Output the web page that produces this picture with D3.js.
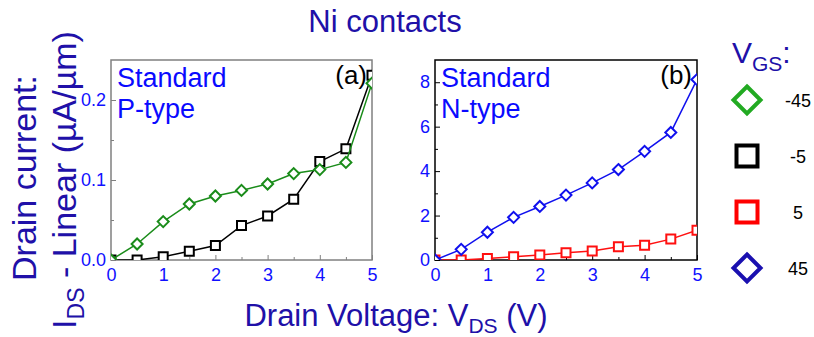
<!DOCTYPE html>
<html>
<head>
<meta charset="utf-8">
<script src="https://cdn.jsdelivr.net/npm/d3@7"></script>
<style>
  body { margin: 0; background: #fff; }
  svg { display: block; font-family: "Liberation Sans", Arial, sans-serif; }
</style>
</head>
<body>
<svg id="chart" width="814" height="337"></svg>
<script>
// Drain voltage sweep (V)
const vds = [0, 0.5, 1, 1.5, 2, 2.5, 3, 3.5, 4, 4.5, 5];

// (a) Standard P-type, current in uA/um
const pVgsM45 = [0, 0.020, 0.048, 0.070, 0.080, 0.087, 0.095, 0.108, 0.113, 0.122, 0.221];
const pVgsM5 = [0, 0.000, 0.004, 0.011, 0.018, 0.043, 0.055, 0.076, 0.123, 0.139, 0.231];

// (b) Standard N-type, current in uA/um
const nVgs5 = [0, 0.00, 0.07, 0.15, 0.22, 0.33, 0.40, 0.60, 0.66, 0.94, 1.34];
const nVgs45 = [0, 0.48, 1.25, 1.92, 2.41, 2.92, 3.47, 4.07, 4.89, 5.74, 8.12];

const xTicks = [0, 1, 2, 3, 4, 5];
const xMinor = [0.5, 1.5, 2.5, 3.5, 4.5];
const yTicksA = [0, 0.1, 0.2];
const yMinorA = [0.05, 0.15];
const yTicksB = [0, 2, 4, 6, 8];
const yMinorB = [1, 3, 5, 7];

const legendLabels = ["-45", "-5", "5", "45"];

const darkBlue = "#2010a8";
const tickBlue = "#1010ff";

const svg = d3.select("#chart");

// panel geometry
const panels = [
    {
        id: "a", x0: 111, x1: 372, yMax: 0.25, frame: "#808080",
        yTicks: yTicksA, yMinor: yMinorA, yFormat: d3.format(".1f"),
        tag: "(a)", kind: "P-type",
        series: [
            { values: pVgsM5, color: "#000000", shape: "square" },
            { values: pVgsM45, color: "#1a8c1a", shape: "diamond" }
        ]
    },
    {
        id: "b", x0: 435, x1: 697, yMax: 9, frame: "#000000",
        yTicks: yTicksB, yMinor: yMinorB, yFormat: d3.format("d"),
        tag: "(b)", kind: "N-type",
        series: [
            { values: nVgs5, color: "#ff1010", shape: "square" },
            { values: nVgs45, color: "#1010ee", shape: "diamond" }
        ]
    }
];
const plotTop = 60, plotBottom = 260;

function markerPath(shape, size) {
    const h = size / 2;
    if (shape === "square") {
        return `M${-h},${-h}H${h}V${h}H${-h}Z`;
    }
    return `M0,${-h}L${h},0L0,${h}L${-h},0Z`;
}

panels.forEach(p => {
    const x = d3.scaleLinear().domain([0, 5]).range([p.x0, p.x1]);
    const y = d3.scaleLinear().domain([0, p.yMax]).range([plotBottom, plotTop]);
    const g = svg.append("g");

    // clip region for the data marks
    svg.append("clipPath").attr("id", "clip-" + p.id)
        .append("rect")
        .attr("x", p.x0).attr("y", plotTop)
        .attr("width", p.x1 - p.x0).attr("height", plotBottom - plotTop);

    // axes (ticks pointing inward)
    const xAxis = g.append("g").attr("transform", `translate(0,${plotBottom})`)
        .call(d3.axisBottom(x).tickValues(xTicks).tickSize(-5).tickPadding(8).tickFormat(d3.format("d")));
    g.append("g").attr("transform", `translate(0,${plotBottom})`)
        .call(d3.axisBottom(x).tickValues(xMinor).tickSize(-3).tickFormat(""));
    const yAxis = g.append("g").attr("transform", `translate(${p.x0},0)`)
        .call(d3.axisLeft(y).tickValues(p.yTicks).tickSize(-5).tickPadding(5).tickFormat(p.yFormat));
    g.append("g").attr("transform", `translate(${p.x0},0)`)
        .call(d3.axisLeft(y).tickValues(p.yMinor).tickSize(-3).tickFormat(""));

    g.selectAll(".domain").remove();
    g.selectAll(".tick line").attr("stroke", p.frame).attr("stroke-width", 1);
    xAxis.selectAll("text").attr("fill", tickBlue).style("font-size", "18px");
    yAxis.selectAll("text").attr("fill", tickBlue).style("font-size", "18px");

    // frame
    g.append("rect")
        .attr("x", p.x0).attr("y", plotTop)
        .attr("width", p.x1 - p.x0).attr("height", plotBottom - plotTop)
        .attr("fill", "none").attr("stroke", p.frame).attr("stroke-width", 1.5);

    // data
    const line = d3.line().x((d, i) => x(vds[i])).y(d => y(d));
    const dataG = g.append("g").attr("clip-path", `url(#clip-${p.id})`);
    p.series.forEach(s => {
        dataG.append("path")
            .datum(s.values)
            .attr("d", line)
            .attr("fill", "none")
            .attr("stroke", s.color)
            .attr("stroke-width", 1.5);
        dataG.selectAll(null)
            .data(s.values)
            .join("path")
            .attr("transform", (d, i) => `translate(${x(vds[i])},${y(d)})`)
            .attr("d", markerPath(s.shape, s.shape === "square" ? 9 : 11))
            .attr("fill", "#fff")
            .attr("stroke", s.color)
            .attr("stroke-width", 2);
    });

    // inner labels
    g.append("text")
        .attr("x", p.x0 + 6).attr("y", 87)
        .attr("fill", "#0a0aff").style("font-size", "27px")
        .text("Standard");
    g.append("text")
        .attr("x", p.x0 + 6).attr("y", 118)
        .attr("fill", "#0a0aff").style("font-size", "27px")
        .text(p.kind);
    g.append("text")
        .attr("x", p.x1 - 5).attr("y", 84)
        .attr("text-anchor", "end")
        .attr("fill", "#000").style("font-size", "26px")
        .text(p.tag);
});

// title
svg.append("text")
    .attr("x", 385).attr("y", 32)
    .attr("text-anchor", "middle")
    .attr("fill", darkBlue).style("font-size", "31px")
    .text("Ni contacts");

// x axis title
const xTitle = svg.append("text")
    .attr("x", 396).attr("y", 326)
    .attr("text-anchor", "middle")
    .attr("fill", darkBlue).style("font-size", "31px");
xTitle.append("tspan").text("Drain Voltage: V");
xTitle.append("tspan").attr("dy", 7).style("font-size", "21px").text("DS");
xTitle.append("tspan").attr("dy", -7).text(" (V)");

// y axis title, two lines
svg.append("text")
    .attr("transform", "translate(36,178) rotate(-90)")
    .attr("text-anchor", "middle")
    .attr("fill", darkBlue).style("font-size", "34px")
    .text("Drain current:");
const yTitle = svg.append("text")
    .attr("transform", "translate(76,180) rotate(-90)")
    .attr("text-anchor", "middle")
    .attr("fill", darkBlue).style("font-size", "34px");
yTitle.append("tspan").text("I");
yTitle.append("tspan").attr("dy", 8).style("font-size", "23px").text("DS");
yTitle.append("tspan").attr("dy", -8).text(" - Linear (\u00b5A/\u00b5m)");

// legend
const legendColors = ["#22aa22", "#000000", "#ff0000", "#1a10b0"];
const legendShapes = ["diamond", "square", "square", "diamond"];
const legendY = d3.scalePoint().domain(legendLabels).range([100, 268]);

const vgs = svg.append("text")
    .attr("x", 732).attr("y", 63)
    .attr("fill", darkBlue).style("font-size", "30px");
vgs.append("tspan").text("V");
vgs.append("tspan").attr("dy", 8).style("font-size", "21px").text("GS");
vgs.append("tspan").attr("dy", -8).text(":");

const items = svg.selectAll(".legend-item")
    .data(legendLabels)
    .join("g")
    .attr("class", "legend-item")
    .attr("transform", d => `translate(0,${legendY(d)})`);
items.append("path")
    .attr("transform", "translate(747,0)")
    .attr("d", (d, i) => markerPath(legendShapes[i], legendShapes[i] === "square" ? 21 : 27))
    .attr("fill", "#fff")
    .attr("stroke", (d, i) => legendColors[i])
    .attr("stroke-width", 4);
items.append("text")
    .attr("x", 798).attr("y", 7)
    .attr("text-anchor", "middle")
    .attr("fill", "#000").style("font-size", "18px")
    .text(d => d);
</script>
</body>
</html>
